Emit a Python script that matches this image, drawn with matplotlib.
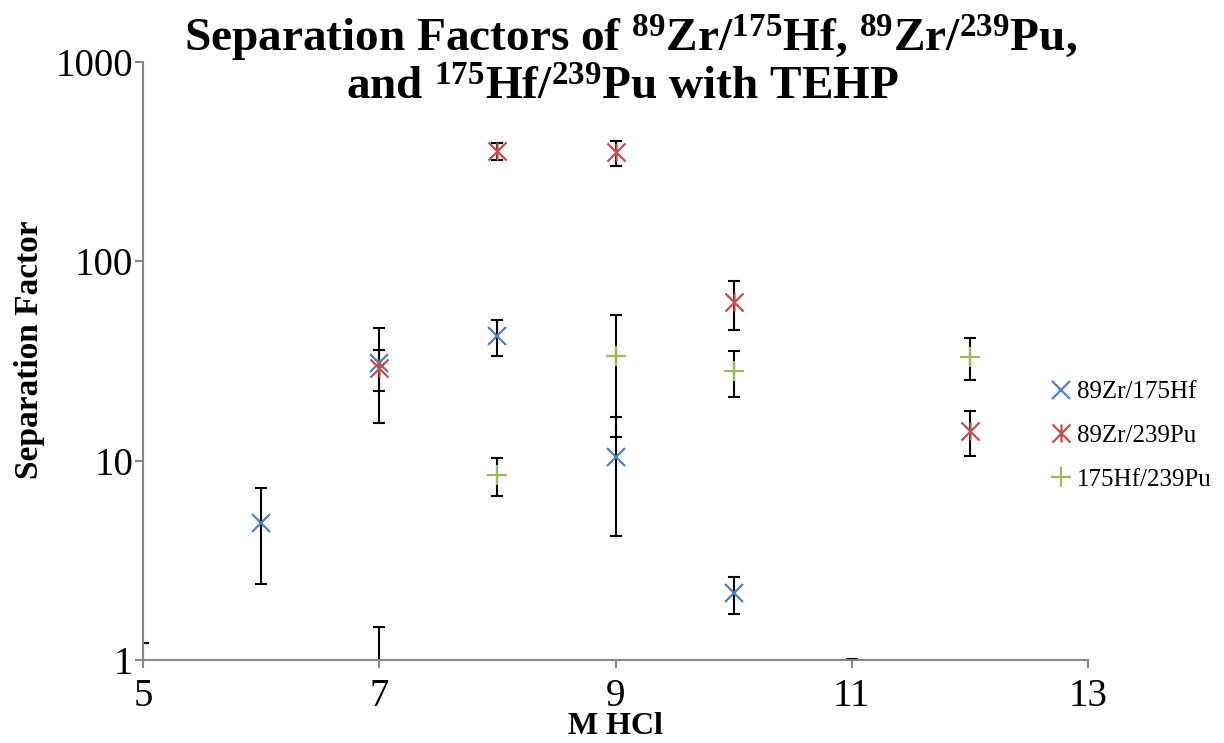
import numpy as np
import matplotlib
matplotlib.use("Agg")
import matplotlib.pyplot as plt
from matplotlib.path import Path
from matplotlib.ticker import FixedLocator, FuncFormatter, NullLocator

plt.rcParams['font.family'] = ['Liberation Serif', 'DejaVu Serif']

# Data (M HCl vs separation factor)
zr_hf_x = [6, 7, 8, 9, 10, 11]
zr_hf_y = [4.85, 31.0, 42.2, 10.4, 2.16, 0.6]
zr_hf_err = [2.45, 15.5, 8.6, 6.2, 0.45, 0.415]

zr_pu_x = [7, 8, 9, 10, 12]
zr_pu_y = [29.2, 359, 352, 62.3, 14.1]
zr_pu_err = [6.8, 35, 50, 17, 3.6]

hf_pu_x = [5, 7, 8, 9, 10, 12]
hf_pu_y = [0.7, 0.85, 8.48, 33.5, 28.3, 33.3]
hf_pu_err = [0.52, 0.62, 1.8, 20.3, 7.4, 7.8]

labels = ['89Zr/175Hf', '89Zr/239Pu', '175Hf/239Pu']
colors = ['#4F81BD', '#C0504D', '#9BBB59']

star = Path([(-1, -1), (1, 1), (-1, 1), (1, -1), (0, -1), (0, 1)],
            [Path.MOVETO, Path.LINETO, Path.MOVETO, Path.LINETO, Path.MOVETO, Path.LINETO])

fig = plt.figure(figsize=(12.24, 7.43), dpi=100)
ax = fig.add_axes([143/1224, 1-660/743, (1088-143)/1224, (660-62)/743])

series = [
    (zr_hf_x, zr_hf_y, zr_hf_err, 'x', 13),
    (zr_pu_x, zr_pu_y, zr_pu_err, star, 13),
    (hf_pu_x, hf_pu_y, hf_pu_err, '+', 15),
]
handles = []
for (x, y, e, m, ms), lab, c in zip(series, labels, colors):
    e = np.array(e)
    ax.errorbar(x, y, yerr=e, fmt='none', ecolor='black', elinewidth=1.5,
                capsize=4.5, capthick=1.5, zorder=2)
    h, = ax.plot(x, y, linestyle='none', marker=m, markersize=ms,
                 markeredgecolor=c, markerfacecolor='none', markeredgewidth=1.6,
                 color=c, label=lab, zorder=3)
    handles.append(h)

ax.set_yscale('log')
ax.set_ylim(1, 1000)
ax.set_xlim(5, 13)
ax.xaxis.set_major_locator(FixedLocator([5, 7, 9, 11, 13]))
ax.yaxis.set_major_locator(FixedLocator([1, 10, 100, 1000]))
ax.yaxis.set_minor_locator(NullLocator())
ax.xaxis.set_minor_locator(NullLocator())
ax.yaxis.set_major_formatter(FuncFormatter(lambda v, p: '%g' % v))
ax.xaxis.set_major_formatter(FuncFormatter(lambda v, p: '%g' % v))

for s in ['top', 'right']:
    ax.spines[s].set_visible(False)
for s in ['left', 'bottom']:
    ax.spines[s].set_color('#888888')
    ax.spines[s].set_linewidth(1.5)
ax.tick_params(axis='both', which='major', direction='out', length=6, width=1.5,
               color='#888888', labelsize=28, labelcolor='black')
ax.tick_params(axis='x', pad=7)
ax.tick_params(axis='y', pad=1)

fig.text(631/1224, 1-38/743,
         'Separation Factors of $\\mathregular{^{89}}$Zr/$\\mathregular{^{175}}$Hf, '
         '$\\mathregular{^{89}}$Zr/$\\mathregular{^{239}}$Pu,',
         ha='center', va='center', fontsize=34, fontweight='bold')
fig.text(622/1224, 1-89/743,
         'and $\\mathregular{^{175}}$Hf/$\\mathregular{^{239}}$Pu with TEHP',
         ha='center', va='center', fontsize=34, fontweight='bold')
fig.text(615/1224, 1-727/743, 'M HCl', ha='center', va='center', fontsize=23, fontweight='bold')
fig.text(30/1224, 1-350/743, 'Separation Factor', ha='center', va='center', rotation=90,
         fontsize=24, fontweight='bold')

fig.legend(handles=handles, labels=labels, loc='center left',
           bbox_to_anchor=(1036/1224, 1-436/743), frameon=False, fontsize=18,
           handlelength=1.0, handletextpad=0.15, labelspacing=0.85, borderpad=0)

fig.savefig('out.png', dpi=100)
